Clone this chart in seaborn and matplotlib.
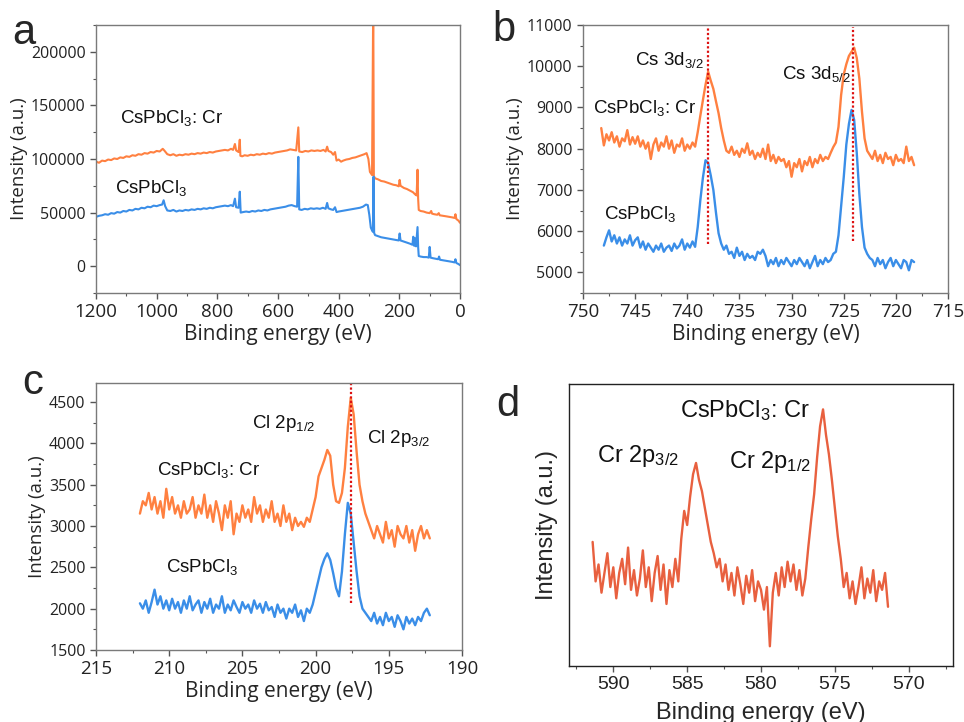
import numpy as np
import matplotlib
matplotlib.use("Agg")
import matplotlib.pyplot as plt
import seaborn as sns
from matplotlib.ticker import MultipleLocator

sns.set_style("ticks")
plt.rcParams['font.family'] = ['Liberation Sans', 'DejaVu Sans']
plt.rcParams['mathtext.default'] = 'regular'

ORANGE = "#FF8040"
BLUE = "#3A8EE8"
RED_D = "#E8603F"

# ---------------- panel a : survey ----------------
a_cr_E = [1200, 1190, 1180, 1170, 1160, 1150, 1140, 1130, 1120, 1110, 1100, 1090, 1080, 1070, 1060, 1050,
          1040, 1030, 1020, 1010, 1000, 990, 980, 975, 965, 955, 945, 935, 925, 915, 905, 895, 885, 875, 865,
          855, 845, 835, 825, 815, 805, 795, 785, 775, 765, 755, 748, 742, 738, 730, 726, 724, 718, 710, 700,
          690, 680, 670, 660, 650, 640, 630, 620, 610, 600, 590, 580, 570, 560, 550, 540, 533, 530, 520, 510,
          500, 490, 480, 470, 460, 450, 443, 438, 434, 425, 418, 412, 407, 400, 392, 385, 375, 365, 355, 345,
          335, 325, 315, 308, 302, 297, 290, 286, 284, 280, 270, 260, 250, 240, 230, 220, 210, 202, 199, 196,
          185, 175, 165, 155, 148, 143, 140, 138, 136, 130, 120, 110, 100, 95, 92, 85, 75, 70, 67, 55, 45, 35,
          25, 18, 15, 12, 5, 0]
a_cr_I = [97500, 96500, 98500, 98000, 99500, 99000, 100500, 100000, 101500, 101000, 102500, 102000, 103500,
          103000, 104500, 104000, 105500, 105000, 106500, 106000, 107500, 107000, 109500, 108000, 104500,
          103500, 104500, 103000, 104000, 103500, 104500, 104000, 105000, 104500, 105500, 105000, 106000,
          105500, 106500, 106000, 107000, 107500, 108000, 108500, 108000, 109500, 108500, 114000, 108000,
          106500, 118000, 103000, 102500, 103500, 103000, 104000, 103500, 104500, 104000, 105000, 104500,
          105500, 105000, 106000, 106500, 107000, 107500, 108000, 109000, 108500, 108000, 129500, 107000,
          106500, 107500, 107000, 108000, 107500, 108000, 107500, 108500, 107000, 111500, 107500, 106500,
          104000, 106500, 98500, 99500, 97500, 98500, 99500, 100000, 101000, 101500, 102500, 103500, 104500,
          105500, 100000, 88000, 85000, 250000, 84000, 82000, 81000, 79500, 79000, 78000, 77000, 76000,
          75500, 74500, 80500, 75000, 73000, 72000, 70500, 69000, 67000, 66000, 90000, 63000, 52500, 51500,
          51000, 50000, 49500, 51500, 49000, 48500, 48000, 49500, 47500, 47000, 46500, 46000, 45500, 45000,
          48500, 44000, 42500, 40500]

a_pure_E = [1200, 1190, 1180, 1170, 1160, 1150, 1140, 1130, 1120, 1110, 1100, 1090, 1080, 1070, 1060, 1050,
            1040, 1030, 1020, 1010, 1000, 990, 982, 977, 972, 965, 955, 945, 935, 925, 915, 905, 895, 885, 875,
            865, 855, 845, 835, 825, 815, 805, 795, 785, 775, 765, 755, 748, 742, 738, 730, 726, 723, 715, 705,
            695, 685, 675, 665, 655, 645, 635, 625, 615, 605, 595, 585, 575, 565, 555, 545, 537, 533, 530, 522,
            512, 502, 492, 482, 472, 462, 452, 443, 438, 434, 425, 418, 412, 407, 400, 390, 380, 370, 360, 350,
            340, 330, 320, 310, 304, 299, 294, 290, 287, 285, 283, 280, 270, 260, 250, 240, 230, 220, 210, 202,
            199, 196, 185, 175, 165, 157, 154, 151, 148, 145, 140, 138, 136, 130, 120, 110, 103, 100, 97, 90,
            80, 72, 69, 66, 55, 45, 35, 25, 18, 15, 12, 5, 0]
a_pure_I = [46000, 47000, 47500, 48500, 48000, 49500, 49000, 50500, 50000, 51500, 51000, 52500, 52000, 53500,
            53000, 54500, 54000, 55500, 55000, 56500, 56000, 57000, 57500, 61500, 56000, 52000, 51500, 52500,
            51000, 52000, 51500, 52500, 52000, 53000, 52500, 53500, 53000, 54000, 53500, 54500, 54000, 55000,
            55500, 56000, 56500, 56000, 57000, 56000, 63000, 55000, 54500, 69500, 50000, 50500, 51000, 50500,
            51500, 51000, 52000, 51500, 52500, 52000, 53000, 53500, 54000, 54500, 55000, 55500, 56500, 57000,
            56000, 55500, 102000, 53000, 52500, 53500, 53000, 54000, 53500, 54000, 53500, 54500, 53500, 59000,
            54000, 53000, 52500, 55000, 50500, 51000, 51500, 52000, 52500, 53000, 53500, 54000, 54500, 55500,
            57500, 57000, 48000, 36000, 33500, 32000, 83500, 31000, 29000, 28000, 27000, 26500, 26000, 25500,
            25000, 24500, 24000, 30500, 24000, 23000, 22000, 21000, 20000, 27500, 19000, 26000, 18500, 36500,
            18000, 9500, 9000, 8500, 8500, 8000, 18000, 8000, 7500, 7000, 6500, 9000, 6000, 5500, 5000, 4500,
            4000, 3500, 6500, 3000, 2000, 1000]

# ---------------- panel b : Cs 3d ----------------
b_cr_start = 748.25
b_cr_I = [8500, 8080, 8350, 8200, 8400, 8150, 8300, 8050, 8250, 8180, 8450, 8100, 8280, 8120,
          8300, 8050, 8200, 8000, 8150, 7750, 8100, 8250, 7950, 8150, 8050, 8300, 8000, 8200, 7900, 8100,
          8050, 8250, 7950, 8100, 8000, 8150, 8050,
          8400, 8800, 9180, 9550, 9870, 9650, 9450, 9150, 8860, 8500, 8200, 7950, 7900,
          8050, 7850, 7950, 7800, 8000, 7900, 8130, 7850, 7950, 7750, 7900, 7800, 8000, 7750, 8100, 7700,
          7850, 7650, 7800, 7700, 7750, 7550, 7700, 7320, 7650, 7550, 7750, 7450, 7700, 7600, 7800, 7550,
          7750, 7650, 7850, 7700, 7800, 7750, 7900, 8040, 8150,
          8530, 9300, 9800, 10050, 10250, 10350, 10450, 10200, 9700, 8900, 8250, 7950, 7850,
          7750, 7950, 7700, 7850, 7650, 7900, 7750, 7800, 7600, 7850, 7700, 7750, 7650, 8050, 7700, 7800, 7600]
b_pure_start = 748.0
b_pure_I = [5650, 5850, 6020, 5750, 5900, 5700, 5850, 5650, 5800, 5700, 5900, 5650, 5780,
            5850, 5600, 5750, 5550, 5700, 5600, 5500, 5650, 5550, 5700, 5500, 5600, 5650, 5520, 5700, 5580,
            5650, 5800, 5550, 5700, 5600, 5750, 5620,
            6100, 6750, 7300, 7720, 7650, 7350, 7000, 6450, 5950, 5700, 5550, 5650, 5450,
            5500, 5350, 5600, 5400, 5500, 5300, 5450, 5350, 5400, 5300, 5500, 5450, 5550, 5400, 5150, 5300,
            5200, 5350, 5150, 5300, 5200, 5350, 5250, 5150, 5300, 5200, 5350, 5250, 5150, 5300, 5100, 5250,
            5400, 5150, 5300, 5200, 5350, 5250, 5300, 5450, 5500,
            5900, 6600, 7300, 8100, 8600, 8940, 8700, 7900, 6900, 6100, 5600, 5450, 5350,
            5300, 5150, 5350, 5200, 5300, 5100, 5250, 5350, 5150, 5300, 5200, 5100, 5300, 5250, 5050, 5300, 5250]
b_step = 0.25
b_lines = [738.0, 724.1]

# ---------------- panel c : Cl 2p ----------------
c_start = 212.0
c_step = 0.2
c_cr_I = [3150, 3300, 3250, 3400, 3200, 3350, 3150, 3300, 3100, 3450, 3200, 3350, 3150, 3250, 3100, 3300,
          3150, 3200, 3350, 3100, 3250, 3150, 3380, 3100, 3250, 3050, 3300, 3150, 2950, 3250, 3100, 3300,
          2900, 3150, 3050, 3250, 3100, 3200, 3050, 3350, 3150, 3250, 3050, 3200, 3100, 3300, 3050, 3150,
          3000, 3250, 3050, 3150, 2950, 3100, 3000, 3050,
          2990, 3100, 3050, 3200, 3350, 3600, 3700, 3800, 3920, 3850, 3500, 3300, 3280, 3400, 3700, 4200,
          4550, 4350, 3900, 3500, 3300, 3150, 3050, 2950, 2850, 3000, 2900, 2800, 3050, 2850, 2950, 2750,
          3000, 2900, 2850, 3000, 2800, 2950, 2700, 2900, 3000, 2850, 2950, 2850]
c_pure_I = [2065, 2000, 2100, 1950, 2080, 2230, 2050, 2150, 2000, 2100, 1980, 2120, 2000, 2080, 1950, 2100,
            2000, 2150, 1980, 2050, 2100, 1950, 2080, 2000, 2120, 1950, 2050, 2000, 2150, 1950, 2050, 1980,
            2100, 2020, 1950, 2080, 2000, 2050, 1950, 2100, 2000, 2060, 1950, 2080, 1980, 2020, 1900, 2050,
            1950, 2000, 1880, 2000, 1950, 2050, 1900, 1980,
            1850, 2000, 1950, 2050, 2200, 2350, 2500, 2600, 2670, 2590, 2430, 2250, 2150, 2450, 2900, 3280,
            3150, 2800, 2450, 2150, 2000, 1950, 1900, 1850, 1950, 1820, 1900, 1800, 1950, 1850, 1900, 1780,
            1920, 1850, 1750, 1900, 1820, 1880, 1800, 1900, 1850, 1950, 2000, 1920]
c_line = 197.55

# ---------------- panel d : Cr 2p ----------------
d_start = 591.4
d_step = 0.2
d_I = [44, 30, 36, 26, 33, 40, 28, 35, 24, 33, 38, 29, 42, 27, 34, 25, 31, 41, 28, 35, 23, 33, 39, 27, 36,
       22, 34, 28, 38, 30,
       45, 55, 50, 60, 68, 72, 66, 62, 56, 50, 44, 40, 35, 38, 30, 36, 27, 33, 25, 35, 29, 22, 32, 26, 34,
       23, 30, 27, 20, 28, 7, 26, 33, 25, 35, 28, 37, 30, 36, 27, 34, 25, 31,
       42, 52, 61, 74, 85, 91, 82, 75, 66, 56, 46, 38, 28, 33, 24, 30, 22, 28, 35, 24, 31, 26, 34, 23, 30,
       27, 33, 21]


def energies(start, step, n):
    return start - step * np.arange(n)


W, H = 964, 722
fig = plt.figure(figsize=(W / 100, H / 100), dpi=100)


def box(l, t, r, b):
    return [l / W, 1 - b / H, (r - l) / W, (b - t) / H]


LW = 1.7
TICKF = "Open Sans"


def style(ax, spine_col="#7a7a7a"):
    for s in ax.spines.values():
        s.set_visible(True)
        s.set_color(spine_col)
        s.set_linewidth(1.0)
    ax.tick_params(which="both", direction="out", colors="#555555", labelcolor="#222222")
    ax.tick_params(which="major", length=4, width=1)
    ax.tick_params(which="minor", length=2.5, width=0.8)
    ax.tick_params(axis="x", labelsize=13.5)
    ax.tick_params(axis="y", labelsize=11.5)
    for lab in ax.get_xticklabels() + ax.get_yticklabels():
        lab.set_family(TICKF)


def line(ax, x, y, c, lw=LW):
    sns.lineplot(x=x, y=y, ax=ax, color=c, lw=lw, estimator=None, sort=False, legend=False)


ann = dict(fontsize=13.5, ha="left", va="baseline", color="#111111")

# a
ax = fig.add_axes(box(96, 25, 460, 293))
line(ax, a_cr_E, a_cr_I, ORANGE, 1.5)
line(ax, a_pure_E, a_pure_I, BLUE, 1.5)
ax.set_xlim(1200, 0)
ax.set_ylim(-25000, 225000)
ax.set_yticks([0, 50000, 100000, 150000, 200000])
ax.xaxis.set_major_locator(MultipleLocator(200))
ax.xaxis.set_minor_locator(MultipleLocator(100))
ax.yaxis.set_minor_locator(MultipleLocator(25000))
style(ax)
ax.set_xlabel("Binding energy (eV)", fontsize=15, family="Open Sans", labelpad=2)
ax.set_ylabel("Intensity (a.u.)", fontsize=13.5, family="Open Sans", labelpad=2)
ax.text(1121, 133700, "CsPbCl$_3$: Cr", **ann)
ax.text(1137, 68500, "CsPbCl$_3$", **ann)

# b
ax = fig.add_axes(box(583, 25, 948, 293))
line(ax, energies(b_cr_start, b_step, len(b_cr_I)), b_cr_I, ORANGE)
line(ax, energies(b_pure_start, b_step, len(b_pure_I)), b_pure_I, BLUE)
ax.vlines(b_lines[0], 5700, 10930, color="#dd1111", linestyles=(0, (1, 1)), lw=1.6)
ax.vlines(b_lines[1], 5750, 10960, color="#dd1111", linestyles=(0, (1, 1)), lw=1.6)
ax.set_xlim(750, 715)
ax.set_ylim(4500, 11000)
ax.xaxis.set_major_locator(MultipleLocator(5))
ax.xaxis.set_minor_locator(MultipleLocator(2.5))
ax.yaxis.set_major_locator(MultipleLocator(1000))
ax.yaxis.set_minor_locator(MultipleLocator(500))
style(ax)
ax.set_xlabel("Binding energy (eV)", fontsize=15, family="Open Sans", labelpad=2)
ax.set_ylabel("Intensity (a.u.)", fontsize=13.5, family="Open Sans", labelpad=2)
ax.text(745.0, 10030, "Cs 3d$_{3/2}$", **ann)
ax.text(730.9, 9680, "Cs 3d$_{5/2}$", **ann)
ax.text(749.0, 8855, "CsPbCl$_3$: Cr", **ann)
ax.text(748.0, 6305, "CsPbCl$_3$", **ann)

# c
ax = fig.add_axes(box(96, 383, 462, 650))
line(ax, energies(c_start, c_step, len(c_cr_I)), c_cr_I, ORANGE)
line(ax, energies(c_start, c_step, len(c_pure_I)), c_pure_I, BLUE)
ax.vlines(c_line, 2070, 4730, color="#dd1111", linestyles=(0, (1, 1)), lw=1.6)
ax.set_xlim(215, 190)
ax.set_ylim(1500, 4730)
ax.xaxis.set_major_locator(MultipleLocator(5))
ax.xaxis.set_minor_locator(MultipleLocator(2.5))
ax.yaxis.set_major_locator(MultipleLocator(500))
ax.yaxis.set_minor_locator(MultipleLocator(250))
style(ax)
ax.set_xlabel("Binding energy (eV)", fontsize=15, family="Open Sans", labelpad=2)
ax.set_ylabel("Intensity (a.u.)", fontsize=13.5, family="Open Sans", labelpad=2)
ax.text(204.35, 4184, "Cl 2p$_{1/2}$", **ann)
ax.text(196.5, 4002, "Cl 2p$_{3/2}$", **ann)
ax.text(210.83, 3619, "CsPbCl$_3$: Cr", **ann)
ax.text(210.2, 2448, "CsPbCl$_3$", **ann)

# d
ax = fig.add_axes(box(569, 384, 953, 666))
line(ax, energies(d_start, d_step, len(d_I)), d_I, RED_D)
ax.set_xlim(593, 567)
ax.set_ylim(0, 100)
ax.xaxis.set_major_locator(MultipleLocator(5))
ax.xaxis.set_minor_locator(MultipleLocator(2.5))
ax.set_yticks([])
style(ax, spine_col="#222222")
for lab in ax.get_xticklabels():
    lab.set_family("Liberation Sans")
ax.tick_params(axis="x", labelsize=14)
ax.set_xlabel("Binding energy (eV)", fontsize=17, family="Liberation Sans", labelpad=6)
ax.set_ylabel("Intensity (a.u.)", fontsize=17, family="Liberation Sans", labelpad=8)
annd = dict(ann, fontsize=17)
ax.text(585.46, 88.2, "CsPbCl$_3$: Cr", **annd)
ax.text(591.08, 72.4, "Cr 2p$_{3/2}$", **annd)
ax.text(582.14, 70.1, "Cr 2p$_{1/2}$", **annd)

# panel letters
fig.text(12 / W, 1 - 33 / H, "a", fontsize=30, va="center", ha="left")
fig.text(492 / W, 1 - 30 / H, "b", fontsize=30, va="center", ha="left")
fig.text(22 / W, 1 - 383 / H, "c", fontsize=30, va="center", ha="left")
fig.text(496 / W, 1 - 405 / H, "d", fontsize=30, va="center", ha="left")

fig.savefig("out.png", dpi=100)
